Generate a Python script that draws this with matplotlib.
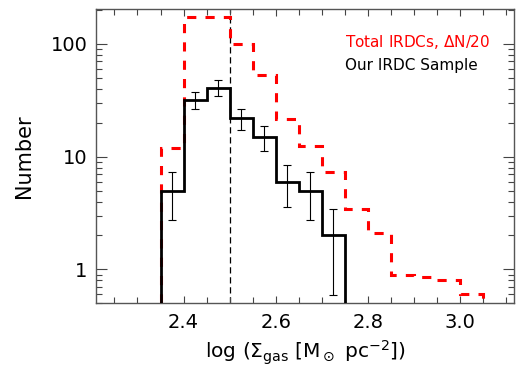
import matplotlib
matplotlib.use("Agg")
import matplotlib.pyplot as plt
import numpy as np
from matplotlib.ticker import FixedLocator, NullFormatter, MultipleLocator, LogLocator

# Data
sample_edges = [2.35, 2.40, 2.45, 2.50, 2.55, 2.60, 2.65, 2.70, 2.75]
sample_counts = [5, 32, 41, 22, 15, 6, 5, 2]
sample_err = [2.24, 5.66, 6.40, 4.69, 3.87, 2.45, 2.24, 1.41]

total_edges = [2.35, 2.40, 2.45, 2.50, 2.55, 2.60, 2.65, 2.70, 2.75,
               2.80, 2.85, 2.90, 2.95, 3.00, 3.05]
total_counts = [12, 175, 175, 100, 53, 21.5, 12.4, 7.3, 3.4, 2.1, 0.9, 0.85, 0.8, 0.6]

vline_x = 2.5
xticks = [2.4, 2.6, 2.8, 3.0]
xtick_labels = ["2.4", "2.6", "2.8", "3.0"]
yticks = [1, 10, 100]
ytick_labels = ["1", "10", "100"]

plt.rcParams['font.family'] = ['DejaVu Sans']
fig = plt.figure(figsize=(5.25, 3.7), dpi=100)
ax = fig.add_axes([0.1829, 0.1803, 0.7961, 0.7946])
ax.set_yscale('log')
ymin, ymax = 0.5, 203
ax.set_xlim(2.21, 3.117)
ax.set_ylim(ymin, ymax)

ax.stairs(total_counts, total_edges, baseline=ymin, color='red', lw=2.2,
          linestyle=(0, (3, 3)), zorder=2)
ax.stairs(sample_counts, sample_edges, baseline=ymin, color='black', lw=2.0, zorder=3)
centers = [(sample_edges[i] + sample_edges[i + 1]) / 2 for i in range(len(sample_counts))]
ax.errorbar(centers, sample_counts, yerr=sample_err, fmt='none', ecolor='black',
            elinewidth=0.8, capsize=3, capthick=0.8, zorder=4)
ax.axvline(vline_x, color='black', lw=0.9, linestyle=(0, (5, 3)), zorder=1)

ax.xaxis.set_major_locator(FixedLocator(xticks))
ax.set_xticklabels(xtick_labels)
ax.xaxis.set_minor_locator(MultipleLocator(0.05))
ax.yaxis.set_major_locator(FixedLocator(yticks))
ax.set_yticklabels(ytick_labels)
ax.yaxis.set_minor_locator(LogLocator(base=10, subs=np.arange(2, 10)))
ax.yaxis.set_minor_formatter(NullFormatter())

ax.tick_params(which='both', direction='in', top=True, right=True, color='#444444',
               labelsize=14, width=0.8)
ax.tick_params(which='major', length=8, pad=6)
ax.tick_params(which='minor', length=4.5)
ax.tick_params(axis='x', which='major', length=5, pad=7)
for s in ax.spines.values():
    s.set_color('#555555')
    s.set_linewidth(1.0)

ax.set_xlabel(r'log ($\Sigma_{\rm gas}$ [M$_\odot$ pc$^{-2}$])', fontsize=14.5, labelpad=5)
ax.set_ylabel('Number', fontsize=15, labelpad=12)

ax.text(0.596, 0.872, r'Total IRDCs, $\Delta$N/20', color='red', fontsize=11,
        transform=ax.transAxes, ha='left', va='baseline')
ax.text(0.596, 0.792, 'Our IRDC Sample', color='black', fontsize=11,
        transform=ax.transAxes, ha='left', va='baseline')

fig.savefig('out.png', dpi=100)
